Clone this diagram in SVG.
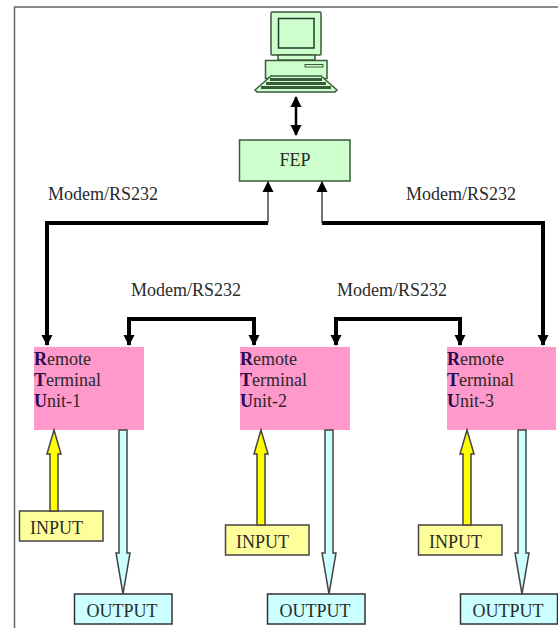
<svg xmlns="http://www.w3.org/2000/svg" width="558" height="628" viewBox="0 0 558 628">
<defs>
<marker id="ah" markerUnits="userSpaceOnUse" markerWidth="12" markerHeight="13" refX="10" refY="6" orient="auto-start-reverse"><path d="M0 0.500L11 6L0 11.500Z" fill="#000"/></marker>
</defs>
<style>
text{font-family:"Liberation Serif","Times New Roman",serif;font-size:18px;fill:#2a2a2a}
.frame{stroke:#666;stroke-width:1.5;fill:none}
.green{fill:#ccffcc;stroke:#3a5a3a;stroke-width:1.5}
.pink{fill:#ff99cc}
.yb{fill:#ffff99;stroke:#444;stroke-width:1.5}
.cb{fill:#ccffff;stroke:#333;stroke-width:1.5}
.link{fill:none;stroke:#000;stroke-width:4;marker-end:url(#ah)}
.both{marker-start:url(#ah)}
.thin{fill:none;stroke:#444;stroke-width:1.5;marker-end:url(#ah)}
.yarrow{fill:#ffff00;stroke:#444;stroke-width:1.5}
.carrow{fill:#ccffff;stroke:#444;stroke-width:1.5}
.r{fill:#2a0a50;font-weight:bold}
</style>
<rect width="558" height="628" fill="#fff"/>
<path class="frame" d="M558 7H14.500V628"/>
<g id="computer">
<rect class="green" x="271" y="12" width="50" height="43" rx="1" stroke-width="2"/>
<rect x="278.500" y="18.500" width="35.500" height="29.500" fill="#ccffcc" stroke="#1f3a2a" stroke-width="1.500"/>
<rect x="278" y="55" width="37" height="5" fill="#ccffcc" stroke="#3a5a3a" stroke-width="1.500"/>
<rect class="green" x="265.500" y="60.500" width="61.500" height="18"/>
<rect x="305" y="64.500" width="18" height="2.500" fill="#ccffcc" stroke="#3a5a3a"/>
<path class="green" d="M271 76H321L337 90L335 92H257L255 90Z"/>
<path d="M270 79.500H322M266 83.500H326M261 87.500H331" stroke="#3a5a3a" stroke-width="3" fill="none"/>
</g>
<g id="fep">
<rect class="green" x="239.500" y="140" width="110.500" height="41"/>
<text x="295" y="166" text-anchor="middle">FEP</text>
</g>
<g id="rtu-1">
<rect class="pink" x="34" y="347" width="110" height="83"/>
<text x="34" y="365"><tspan class="r">R</tspan>emote</text>
<text x="34" y="386"><tspan class="r">T</tspan>erminal</text>
<text x="34" y="407"><tspan class="r">U</tspan>nit-1</text>
</g>
<g id="rtu-2">
<rect class="pink" x="240" y="347" width="110" height="83"/>
<text x="240" y="365"><tspan class="r">R</tspan>emote</text>
<text x="240" y="386"><tspan class="r">T</tspan>erminal</text>
<text x="240" y="407"><tspan class="r">U</tspan>nit-2</text>
</g>
<g id="rtu-3">
<rect class="pink" x="447" y="347" width="109" height="83"/>
<text x="447" y="365"><tspan class="r">R</tspan>emote</text>
<text x="447" y="386"><tspan class="r">T</tspan>erminal</text>
<text x="447" y="407"><tspan class="r">U</tspan>nit-3</text>
</g>
<g id="input-1"><rect class="yb" x="19.500" y="511" width="83.500" height="30"/><text x="30" y="534">INPUT</text></g>
<g id="input-2"><rect class="yb" x="225.500" y="525" width="83.500" height="30"/><text x="236" y="548">INPUT</text></g>
<g id="input-3"><rect class="yb" x="418.500" y="525" width="83.500" height="30"/><text x="429" y="548">INPUT</text></g>
<g id="output-1"><rect class="cb" x="74.500" y="594" width="97.500" height="30"/><text x="122" y="617" text-anchor="middle">OUTPUT</text></g>
<g id="output-2"><rect class="cb" x="267.500" y="594" width="97.500" height="30"/><text x="315" y="617" text-anchor="middle">OUTPUT</text></g>
<g id="output-3"><rect class="cb" x="460.500" y="594" width="97" height="30"/><text x="508" y="617" text-anchor="middle">OUTPUT</text></g>
<g id="connectors">
<path class="link both" d="M296 97V135" style="stroke-width:2.500"/>
<path class="link" d="M268 223H47V345"/>
<path class="thin" d="M268 223V182"/>
<path class="link" d="M322 223H543V345"/>
<path class="thin" d="M322 223V182"/>
<path class="link both" d="M129 345V319H254V345"/>
<path class="link both" d="M336 345V319H460V345"/>
<path id="in-1" class="yarrow" d="M54 430L61 454H58V511H50V454H47Z"/>
<path id="in-2" class="yarrow" d="M261 430L268 454H265V525H257V454H254Z"/>
<path id="in-3" class="yarrow" d="M467 430L474 454H471V525H463V454H460Z"/>
<path id="out-1" class="carrow" d="M119 430H127V553H130L123 594L116 553H119Z"/>
<path id="out-2" class="carrow" d="M325 430H333V553H336L329 594L322 553H325Z"/>
<path id="out-3" class="carrow" d="M518 430H526V553H529L522 594L515 553H518Z"/>
</g>
<g id="labels">
<text x="48" y="200">Modem/RS232</text>
<text x="406" y="200">Modem/RS232</text>
<text x="131" y="296">Modem/RS232</text>
<text x="337" y="296">Modem/RS232</text>
</g>
</svg>
